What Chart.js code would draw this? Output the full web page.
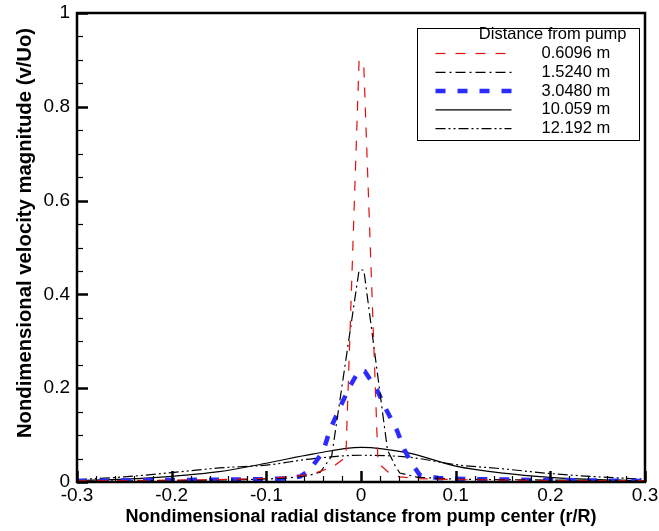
<!DOCTYPE html>
<html>
<head>
<meta charset="utf-8">
<script src="https://cdn.jsdelivr.net/npm/chart.js@4.4.0/dist/chart.umd.min.js"></script>
<style>
  html, body { margin: 0; padding: 0; background: #fff; }
  #wrap { width: 659px; height: 531px; position: relative; }
</style>
</head>
<body>
<div id="wrap"><canvas id="chart"></canvas></div>
<script>
// Distance from pump: 0.6096 m
const x0610 = [-0.3, -0.25, -0.2, -0.15, -0.1, -0.07, -0.05, -0.03, -0.016, -0.002, 0.003, 0.018, 0.029, 0.041, 0.06, 0.1, 0.15, 0.2, 0.25, 0.3];
const y0610 = [0.003, 0.003, 0.004, 0.005, 0.008, 0.012, 0.018, 0.032, 0.053, 0.90, 0.885, 0.04, 0.021, 0.011, 0.007, 0.005, 0.004, 0.003, 0.003, 0.003];

// 1.5240 m
const x1524 = [-0.3, -0.2, -0.12, -0.08, -0.057, -0.043, -0.031, -0.002, 0.003, 0.028, 0.036, 0.041, 0.06, 0.1, 0.2, 0.3];
const y1524 = [0.002, 0.003, 0.005, 0.008, 0.013, 0.021, 0.055, 0.452, 0.452, 0.068, 0.035, 0.019, 0.01, 0.006, 0.004, 0.003];

// 3.0480 m
const x3048 = [-0.3, -0.22, -0.15, -0.1, -0.075, -0.064, -0.054, -0.04, -0.033, -0.022, -0.012, -0.002, 0.004, 0.017, 0.027, 0.038, 0.046, 0.052, 0.062, 0.083, 0.12, 0.2, 0.3];
const y3048 = [0.002, 0.004, 0.005, 0.006, 0.008, 0.012, 0.026, 0.065, 0.11, 0.16, 0.203, 0.238, 0.236, 0.196, 0.153, 0.11, 0.068, 0.045, 0.015, 0.008, 0.006, 0.004, 0.002];

// 10.059 m
const x10059 = [-0.3, -0.25, -0.2, -0.15, -0.1, -0.05, 0, 0.05, 0.1, 0.15, 0.2, 0.25, 0.3];
const y10059 = [0.003, 0.006, 0.012, 0.022, 0.04, 0.06, 0.074, 0.062, 0.034, 0.019, 0.01, 0.005, 0.003];

// 12.192 m
const x12192 = [-0.3, -0.25, -0.2, -0.15, -0.1, -0.05, 0, 0.05, 0.1, 0.15, 0.2, 0.25, 0.3];
const y12192 = [0.005, 0.011, 0.02, 0.03, 0.036, 0.05, 0.057, 0.053, 0.037, 0.028, 0.018, 0.011, 0.006];

const seriesLabels = ["0.6096 m", "1.5240 m", "3.0480 m", "10.059 m", "12.192 m"];
const legendTitle = "Distance from pump";
const yTitle = "Nondimensional velocity magnitude (v/Uo)";
const xTitle = "Nondimensional radial distance from pump center (r/R)";

const FONT = "'Liberation Sans', Arial, sans-serif";

function pts(xs, ys) {
  return xs.map((x, i) => ({ x: x, y: ys[i] }));
}

// inward ticks, frame, y title and legend box
const framePlugin = {
  id: "frame",
  afterDraw(chart) {
    const { ctx, chartArea: a, scales } = chart;
    const xs = scales.x, ys = scales.y;
    ctx.save();
    ctx.strokeStyle = "#000";
    ctx.lineCap = "butt";

    // x ticks: major 0.1, minor 0.02
    for (let i = -15; i <= 15; i++) {
      const px = Math.round(xs.getPixelForValue(i * 0.02)) + 0.5;
      const major = i % 5 === 0;
      ctx.lineWidth = major ? 2.5 : 1.2;
      ctx.beginPath();
      ctx.moveTo(px, a.bottom);
      ctx.lineTo(px, a.bottom - (major ? 11 : 6));
      ctx.stroke();
    }
    // y ticks: major 0.2, minor 0.05
    for (let i = 0; i <= 20; i++) {
      const py = Math.round(ys.getPixelForValue(i * 0.05)) + 0.5;
      const major = i % 4 === 0;
      ctx.lineWidth = major ? 2.5 : 1.2;
      ctx.beginPath();
      ctx.moveTo(a.left, py);
      ctx.lineTo(a.left + (major ? 11 : 6), py);
      ctx.stroke();
    }

    ctx.lineWidth = 2.5;
    ctx.strokeRect(a.left, a.top, a.right - a.left, a.bottom - a.top);

    // y axis title
    ctx.save();
    ctx.translate(25, 233);
    ctx.rotate(-Math.PI / 2);
    ctx.fillStyle = "#000";
    ctx.font = "bold 20.3px " + FONT;
    ctx.textAlign = "center";
    ctx.textBaseline = "middle";
    ctx.fillText(yTitle, 0, 0);
    ctx.restore();

    // legend box
    const bx = a.right - 227.5, by = a.top + 15.5, bw = 222, bh = 112;
    ctx.fillStyle = "#fff";
    ctx.fillRect(bx, by, bw, bh);
    ctx.lineWidth = 1;
    ctx.strokeRect(bx, by, bw, bh);

    ctx.fillStyle = "#000";
    ctx.font = "16.5px " + FONT;
    ctx.textBaseline = "middle";
    ctx.textAlign = "right";
    ctx.fillText(legendTitle, bx + bw - 13, by + 6);

    ctx.textAlign = "left";
    chart.data.datasets.forEach((ds, i) => {
      const ry = by + 25 + i * 18.8;
      ctx.save();
      ctx.strokeStyle = ds.borderColor;
      ctx.lineWidth = ds.borderWidth;
      ctx.setLineDash(ds.borderDash || []);
      ctx.beginPath();
      ctx.moveTo(bx + 18, ry);
      ctx.lineTo(bx + 94, ry);
      ctx.stroke();
      ctx.restore();
      ctx.fillText(ds.label, bx + 124, ry);
    });
    ctx.restore();
  },
};

new Chart(document.getElementById("chart"), {
  type: "line",
  data: {
    datasets: [
      {
        label: seriesLabels[0],
        data: pts(x0610, y0610),
        borderColor: "#e01010",
        borderWidth: 1.2,
        borderDash: [10, 10],
        tension: 0,
      },
      {
        label: seriesLabels[1],
        data: pts(x1524, y1524),
        borderColor: "#000",
        borderWidth: 1.2,
        borderDash: [10, 4, 2, 4],
        tension: 0,
      },
      {
        label: seriesLabels[2],
        data: pts(x3048, y3048),
        borderColor: "#2b2bff",
        borderWidth: 4.5,
        borderDash: [10, 12],
        tension: 0,
      },
      {
        label: seriesLabels[3],
        data: pts(x10059, y10059),
        borderColor: "#000",
        borderWidth: 1.2,
        cubicInterpolationMode: "monotone",
      },
      {
        label: seriesLabels[4],
        data: pts(x12192, y12192),
        borderColor: "#000",
        borderWidth: 1.2,
        borderDash: [10, 3, 2, 3, 2, 3],
        cubicInterpolationMode: "monotone",
      },
    ],
  },
  options: {
    responsive: true,
    maintainAspectRatio: false,
    animation: false,
    elements: { point: { radius: 0 } },
    layout: { padding: { top: 13, right: 14, left: 0, bottom: 0 } },
    plugins: {
      legend: { display: false },
      tooltip: { enabled: false },
    },
    scales: {
      x: {
        type: "linear",
        min: -0.3,
        max: 0.3,
        grid: { display: false, drawTicks: false },
        border: { display: false },
        ticks: {
          stepSize: 0.1,
          color: "#000",
          padding: 2,
          maxRotation: 0,
          font: { family: FONT, size: 19 },
          callback: (v) => String(+v.toFixed(2)),
        },
        title: {
          display: true,
          text: xTitle,
          color: "#000",
          font: { family: FONT, size: 18, weight: "bold" },
          padding: { top: 0, bottom: 3.5 },
        },
        afterFit: (s) => {
          s.height = 49;
          s.paddingLeft = 0;
          s.paddingRight = 0;
        },
      },
      y: {
        min: 0,
        max: 1,
        grid: { display: false, drawTicks: false },
        border: { display: false },
        ticks: {
          stepSize: 0.2,
          color: "#000",
          padding: 7,
          font: { family: FONT, size: 19 },
          callback: (v) => String(+v.toFixed(2)),
        },
        afterFit: (s) => {
          s.width = 77;
          s.paddingTop = 0;
          s.paddingBottom = 0;
        },
      },
    },
  },
  plugins: [framePlugin],
});
</script>
</body>
</html>
